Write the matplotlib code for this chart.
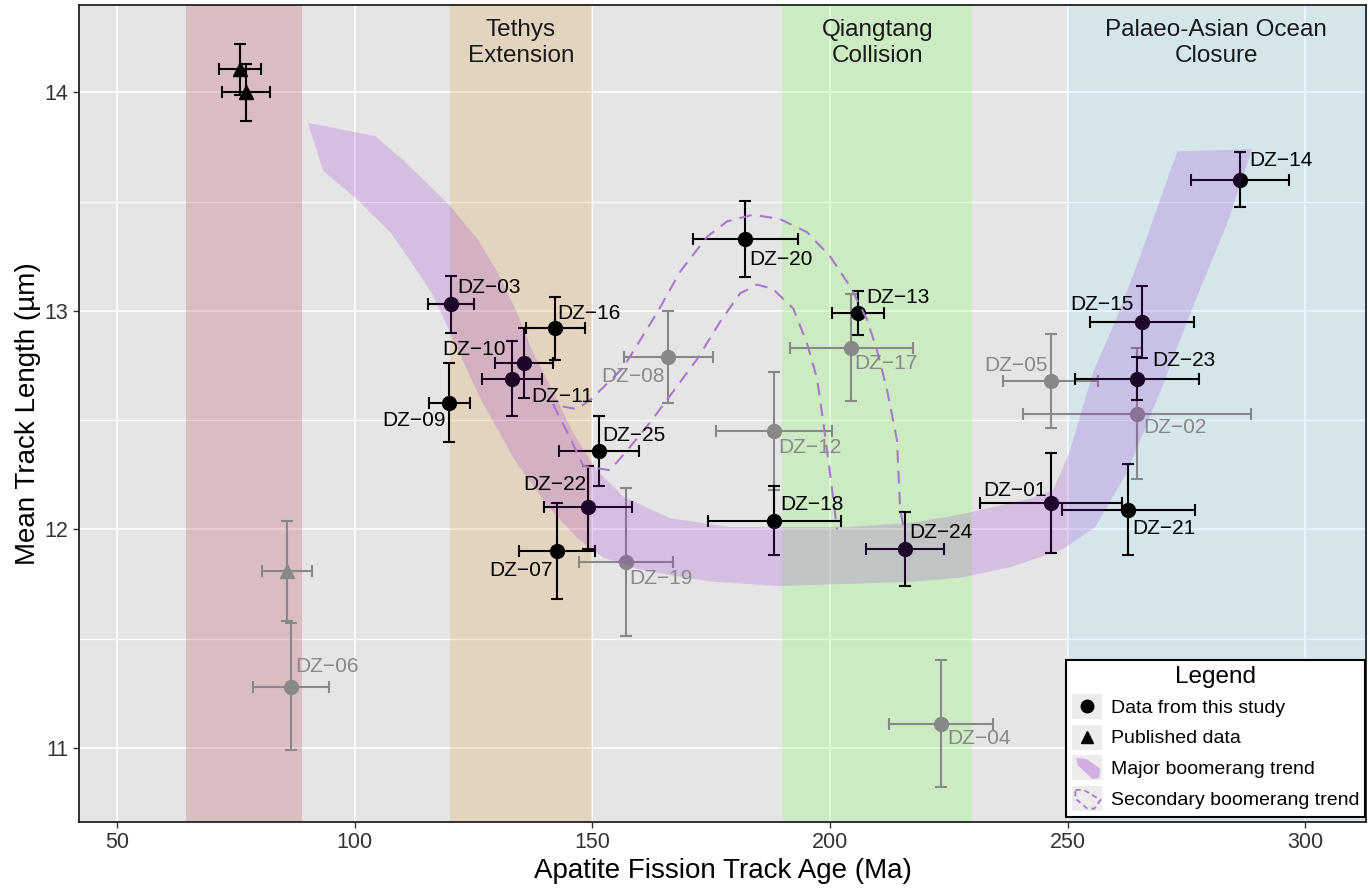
import numpy as np
import matplotlib.pyplot as plt
from matplotlib.patches import Polygon, Rectangle
from matplotlib.lines import Line2D
from matplotlib.legend_handler import HandlerBase
import matplotlib.transforms as mtransforms

plt.rcParams['font.family'] = ['Liberation Sans', 'DejaVu Sans']

# samples from this study (black)
study_names = ['DZ−01', 'DZ−03', 'DZ−07', 'DZ−09', 'DZ−10', 'DZ−11', 'DZ−13', 'DZ−14',
               'DZ−15', 'DZ−16', 'DZ−18', 'DZ−20', 'DZ−21', 'DZ−22', 'DZ−23', 'DZ−24', 'DZ−25']
study_age = [246.5, 120.3, 142.6, 119.9, 133.1, 135.6, 205.9, 286.3,
             265.7, 142.2, 188.3, 182.2, 262.8, 149.1, 264.6, 215.8, 151.4]
study_len = [12.12, 13.03, 11.90, 12.58, 12.69, 12.76, 12.99, 13.60,
             12.95, 12.92, 12.04, 13.33, 12.09, 12.10, 12.69, 11.91, 12.36]
study_age_err = [15, 4.8, 8.0, 4.3, 6.3, 6.1, 5.4, 10.4,
                 11, 6.2, 14, 11, 14, 9.2, 13, 8.2, 8.4]
study_len_err = [0.23, 0.13, 0.22, 0.18, 0.17, 0.16, 0.10, 0.125,
                 0.165, 0.145, 0.16, 0.175, 0.21, 0.19, 0.10, 0.17, 0.16]

# samples from this study (grey)
grey_names = ['DZ−02', 'DZ−04', 'DZ−05', 'DZ−06', 'DZ−08', 'DZ−12', 'DZ−17', 'DZ−19']
grey_age = [264.6, 223.4, 246.5, 86.6, 166.0, 188.3, 204.5, 157.1]
grey_len = [12.53, 11.11, 12.68, 11.28, 12.79, 12.45, 12.83, 11.85]
grey_age_err = [24, 11, 10, 7.9, 9.4, 12.2, 13, 9.9]
grey_len_err = [0.30, 0.29, 0.215, 0.29, 0.21, 0.27, 0.245, 0.34]

# published data
pub_age = [75.9, 77.1]
pub_len = [14.105, 14.0]
pub_age_err = [4.4, 5.0]
pub_len_err = [0.115, 0.13]
pub_grey_age = [85.8]
pub_grey_len = [11.81]
pub_grey_age_err = [5.2]
pub_grey_len_err = [0.23]

# major boomerang band outline
band_age = [90.2, 104.3, 110.2, 115.9, 120.1, 125.8, 130.0, 134.2, 137.5, 141.8, 146.0, 149.5,
            151.0, 156.5, 166.4, 179.0, 189.5, 203.6, 217.5, 228.0, 242.1, 247.0,
            250.5, 255.4, 260.4, 265.3, 269.5, 273.1, 288.8,
            283.6, 276.4, 269.5, 262.5, 255.8, 249.1, 238.6, 228.0, 217.5, 203.6, 189.5,
            175.4, 166.4, 159.4, 152.3, 146.8, 140.5, 133.6, 126.4, 120.1, 116.5, 112.3,
            107.5, 100.5, 93.4]
band_len = [13.86, 13.80, 13.69, 13.57, 13.48, 13.33, 13.18, 12.99, 12.81, 12.63, 12.44, 12.32,
            12.27, 12.15, 12.05, 12.01, 12.01, 12.01, 12.03, 12.07, 12.14, 12.18,
            12.36, 12.72, 12.97, 13.25, 13.51, 13.73, 13.74,
            13.40, 13.02, 12.63, 12.26, 12.01, 11.91, 11.83, 11.78, 11.76, 11.75, 11.74,
            11.76, 11.79, 11.82, 11.87, 11.96, 12.11, 12.32, 12.60, 12.90, 13.07, 13.21,
            13.36, 13.51, 13.64]

# secondary boomerang trend (dashed)
sec_age = [215.4, 214.8, 214.1, 212.0, 209.9, 207.8, 204.3, 200.0, 195.2, 189.5, 183.8, 178.4,
           174.2, 168.5, 163.6, 156.5, 150.0, 146.8, 141.8, 145.3, 148.1, 153.7,
           157.3, 162.2, 167.0, 172.1, 176.9, 181.1, 184.7, 188.0, 192.3, 195.2, 197.3,
           198.6, 200.0, 201.5]
sec_len = [12.02, 12.09, 12.41, 12.64, 12.82, 12.96, 13.11, 13.25, 13.36, 13.42, 13.44, 13.41,
           13.34, 13.18, 12.99, 12.74, 12.60, 12.55, 12.57, 12.42, 12.29, 12.27,
           12.36, 12.49, 12.63, 12.78, 12.95, 13.08, 13.12, 13.10, 13.01, 12.85, 12.69,
           12.49, 12.26, 12.00]

# shaded periods
period_start = [64.5, 120, 190, 250]
period_end = [89, 150, 230, 330]
period_colors = ['#bd4955', '#e1a551', '#85ff61', '#a9e9ff']
period_names = ['', 'Tethys\nExtension', 'Qiangtang\nCollision', 'Palaeo-Asian Ocean\nClosure']
period_label_x = [77, 135, 210, 281.3]

# label offsets in pixels (dx right, dy down)
label_offset = {
    'DZ−01': (-36, -13), 'DZ−03': (38, -17), 'DZ−07': (-36, 19), 'DZ−09': (-35, 18),
    'DZ−10': (-38, -29), 'DZ−11': (38, 33), 'DZ−13': (40, -16), 'DZ−14': (41, -19),
    'DZ−15': (-40, -17), 'DZ−16': (34, -15), 'DZ−18': (38, -16), 'DZ−20': (36, 21),
    'DZ−21': (36, 19), 'DZ−22': (-33, -23), 'DZ−23': (47, -18), 'DZ−24': (36, -16),
    'DZ−25': (35, -15), 'DZ−02': (38, 14), 'DZ−04': (38, 15), 'DZ−05': (-35, -15),
    'DZ−06': (36, -20), 'DZ−08': (-35, 20), 'DZ−12': (36, 17), 'DZ−17': (35, 16),
    'DZ−19': (35, 16),
}

GREY = '#888888'
BAND = '#9628d2'
BAND_ALPHA = 0.2
DASH = '#a878cc'

fig = plt.figure(figsize=(13.7, 8.88), dpi=100)
ax = fig.add_axes([79 / 1370, 66 / 888, 1287 / 1370, 817 / 888])
ax.set_facecolor('#e5e5e5')
ax.set_xlim(42.0, 312.8)
ax.set_ylim(10.66, 14.40)

ax.set_xticks([50, 100, 150, 200, 250, 300])
ax.set_yticks([11, 12, 13, 14])
ax.set_yticks([11.5, 12.5, 13.5], minor=True)
ax.grid(which='major', color='white', lw=1.2, zorder=0)
ax.grid(which='minor', axis='y', color='white', lw=0.9, zorder=0)
ax.set_axisbelow(True)
ax.tick_params(which='major', labelsize=15.5, labelcolor='#333333', color='#333333',
               length=4, width=1)
ax.tick_params(which='minor', length=0)
for s in ax.spines.values():
    s.set_color('#222222')
    s.set_linewidth(1.3)

for x0, x1, c in zip(period_start, period_end, period_colors):
    ax.axvspan(x0, x1, color=c, alpha=0.25, lw=0, zorder=1)

blend = mtransforms.blended_transform_factory(ax.transData, ax.transAxes)
for x, t in zip(period_label_x, period_names):
    if t:
        ax.text(x, 0.983, t, transform=blend, ha='center', va='top', fontsize=17.5,
                color='#1a1a1a', linespacing=1.25, zorder=7)

# error bars
ebkw = dict(fmt='none', elinewidth=1.5, capsize=4.5, capthick=1.5, zorder=2)
ax.errorbar(grey_age, grey_len, xerr=grey_age_err, yerr=grey_len_err, ecolor=GREY, **ebkw)
ax.errorbar(pub_grey_age, pub_grey_len, xerr=pub_grey_age_err, yerr=pub_grey_len_err,
            ecolor=GREY, **ebkw)
ax.errorbar(study_age, study_len, xerr=study_age_err, yerr=study_len_err, ecolor='black', **ebkw)
ax.errorbar(pub_age, pub_len, xerr=pub_age_err, yerr=pub_len_err, ecolor='black', **ebkw)

ax.plot(grey_age, grey_len, 'o', color=GREY, ms=10, zorder=3)
ax.plot(pub_grey_age, pub_grey_len, '^', color=GREY, ms=10, zorder=3)
ax.plot(study_age, study_len, 'o', color='black', ms=10, zorder=3)
ax.plot(pub_age, pub_len, '^', color='black', ms=10, zorder=3)

# trends
ax.add_patch(Polygon(np.column_stack([band_age, band_len]), closed=True,
                     facecolor=BAND, alpha=BAND_ALPHA, edgecolor='none', zorder=4))
ax.plot(sec_age, sec_len, color=DASH, lw=1.5, ls=(0, (6, 4)), zorder=5)

for names, xs, ys, col in [(study_names, study_age, study_len, 'black'),
                           (grey_names, grey_age, grey_len, GREY)]:
    for n, x, y in zip(names, xs, ys):
        dx, dy = label_offset[n]
        ax.annotate(n, (x, y), xytext=(dx, -dy), textcoords='offset pixels',
                    ha='center', va='center', fontsize=15, color=col, zorder=6)

ax.set_xlabel('Apatite Fission Track Age (Ma)', fontsize=20, color='black', labelpad=3)
ax.set_ylabel('Mean Track Length (µm)', fontsize=20, color='black', labelpad=3)


class KeyHandler(HandlerBase):
    def __init__(self, kind):
        super().__init__()
        self.kind = kind

    def create_artists(self, legend, orig_handle, xdescent, ydescent, width, height,
                       fontsize, trans):
        x0, y0 = -xdescent, -ydescent
        bg = Rectangle((x0, y0), width, height, facecolor='#ececec', edgecolor='none',
                       transform=trans)
        cx, cy = x0 + width / 2, y0 + height / 2
        if self.kind in ('o', '^'):
            art = Line2D([cx], [cy], marker=self.kind, color='black', ms=9, ls='none',
                         transform=trans)
        elif self.kind == 'band':
            rel = [(0.15, 0.9), (0.5, 0.85), (0.95, 0.45), (0.9, 0.1), (0.7, 0.05), (0.2, 0.6)]
            art = Polygon([(x0 + a * width, y0 + b * height) for a, b in rel],
                          facecolor=BAND, alpha=BAND_ALPHA * 1.6, edgecolor='none',
                          transform=trans)
        else:
            rel = [(0.12, 0.85), (0.4, 0.85), (0.95, 0.45), (0.75, 0.1), (0.5, 0.12),
                   (0.12, 0.5)]
            art = Polygon([(x0 + a * width, y0 + b * height) for a, b in rel],
                          facecolor='none', edgecolor=DASH, lw=1.3, ls=(0, (3, 2)),
                          transform=trans)
        return [bg, art]


handles = [Line2D([], []), Line2D([], []), Rectangle((0, 0), 1, 1), Polygon([[0, 0]])]
leg = ax.legend(handles,
                ['Data from this study', 'Published data', 'Major boomerang trend',
                 'Secondary boomerang trend'],
                handler_map={handles[0]: KeyHandler('o'), handles[1]: KeyHandler('^'),
                             handles[2]: KeyHandler('band'), handles[3]: KeyHandler('dash')},
                title='Legend', title_fontsize=17.5, fontsize=14, loc='lower right',
                bbox_to_anchor=(1 - 1 / 1287, 5 / 817), borderaxespad=0,
                frameon=True, fancybox=False, framealpha=1, facecolor='white',
                edgecolor='black', handlelength=1.55, handleheight=1.6,
                handletextpad=0.45, labelspacing=0.3, borderpad=0.3)
leg.get_frame().set_linewidth(1.5)
leg.set_zorder(10)

fig.savefig('out.png', dpi=100)
